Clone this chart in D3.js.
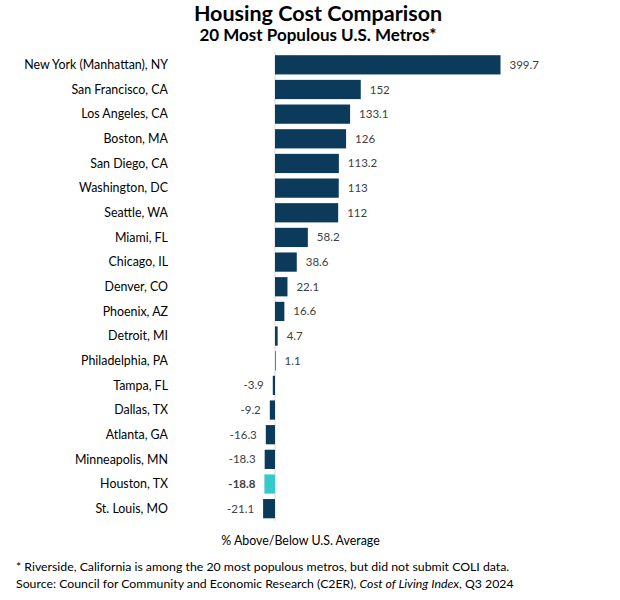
<!DOCTYPE html>
<html><head><meta charset="utf-8">
<script src="https://cdn.jsdelivr.net/npm/d3@7"></script>
<style>body{margin:0;background:#fff}</style>
</head><body>
<script>
const categories = ["New York (Manhattan), NY","San Francisco, CA","Los Angeles, CA","Boston, MA","San Diego, CA","Washington, DC","Seattle, WA","Miami, FL","Chicago, IL","Denver, CO","Phoenix, AZ","Detroit, MI","Philadelphia, PA","Tampa, FL","Dallas, TX","Atlanta, GA","Minneapolis, MN","Houston, TX","St. Louis, MO"];
const values = [399.7,152,133.1,126,113.2,113,112,58.2,38.6,22.1,16.6,4.7,1.1,-3.9,-9.2,-16.3,-18.3,-18.8,-21.1];
const highlight = "Houston, TX";

const W=620,H=600;
const svg=d3.select("body").append("svg").attr("width",W).attr("height",H)
  .style("font-family","Lato, 'Open Sans', sans-serif");
const x=d3.scaleLinear().domain([0,399.7]).range([275,500.5]);
const y=d3.scaleBand().domain(categories).range([52.5,521]).paddingInner(0.22).paddingOuter(0.11);
const navy="#0B3A5B", teal="#36C9CC";

svg.append("text").attr("x",318).attr("y",21).attr("text-anchor","middle")
  .attr("font-weight","bold").attr("font-size",21.5).attr("fill","#000").text("Housing Cost Comparison");
svg.append("text").attr("x",318).attr("y",41).attr("text-anchor","middle")
  .attr("font-weight","bold").attr("font-size",17).attr("fill","#000").text("20 Most Populous U.S. Metros*");

// zero line
svg.append("line").attr("x1",x(0)).attr("x2",x(0)).attr("y1",52).attr("y2",521)
  .attr("stroke","#d9d9d9").attr("stroke-width",1);

const data=categories.map((c,i)=>({c,v:values[i]}));
svg.selectAll("rect.bar").data(data).join("rect").attr("class","bar")
  .attr("x",d=>x(Math.min(0,d.v))).attr("width",d=>Math.abs(x(d.v)-x(0)))
  .attr("y",d=>y(d.c)).attr("height",y.bandwidth())
  .attr("fill",d=>d.c===highlight?teal:navy);

svg.selectAll("text.cat").data(data).join("text").attr("class","cat")
  .attr("x",168).attr("y",d=>y(d.c)+y.bandwidth()/2).attr("dy","0.35em")
  .attr("text-anchor","end").attr("font-size",12.4).attr("fill","#000").text(d=>d.c);

svg.selectAll("text.val").data(data).join("text").attr("class","val")
  .attr("x",d=>d.v>=0?x(d.v)+9:x(d.v)-9).attr("y",d=>y(d.c)+y.bandwidth()/2).attr("dy","0.35em")
  .attr("text-anchor",d=>d.v>=0?"start":"end").attr("font-size",11.5)
  .attr("font-weight",d=>d.c===highlight?"bold":"normal")
  .attr("fill","#404040").text(d=>d.v);

svg.append("text").attr("x",300.5).attr("y",545).attr("text-anchor","middle")
  .attr("font-size",12.4).attr("fill","#000").text("% Above/Below U.S. Average");
svg.append("text").attr("x",16).attr("y",571).attr("font-size",12.3).attr("fill","#000")
  .text("* Riverside, California is among the 20 most populous metros, but did not submit COLI data.");
const s=svg.append("text").attr("x",16).attr("y",588).attr("font-size",12.3).attr("fill","#000");
s.append("tspan").text("Source: Council for Community and Economic Research (C2ER), ");
s.append("tspan").attr("font-style","italic").text("Cost of Living Index");
s.append("tspan").text(", Q3 2024");
</script>
</body></html>
